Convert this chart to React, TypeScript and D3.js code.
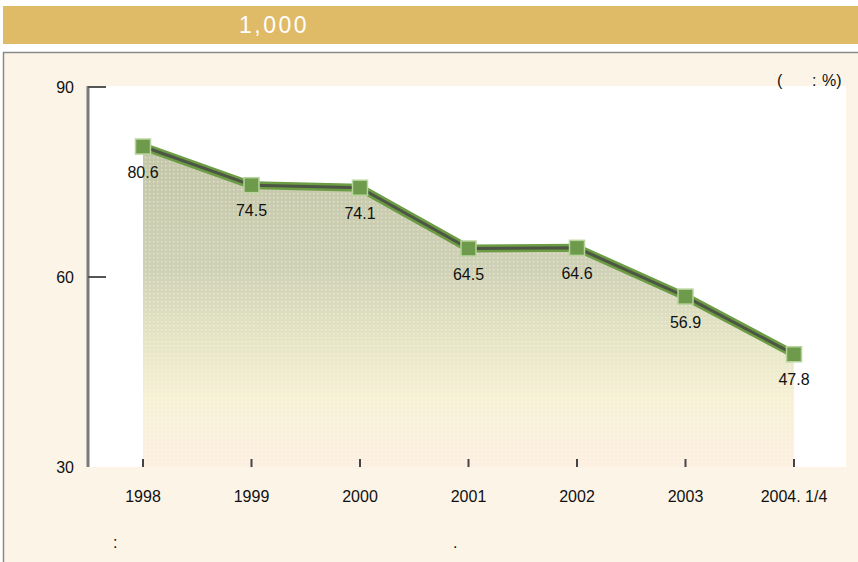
import React, { FC, useMemo } from 'react'
import * as d3 from 'd3'

const categories = ['1998', '1999', '2000', '2001', '2002', '2003', '2004. 1/4']
const values = [80.6, 74.5, 74.1, 64.5, 64.6, 56.9, 47.8]
const yTicks = [30, 60, 90]
const yTickMarks = [60, 90]
const headerTitle = '1,000'

const W = 858
const H = 562
const FONT = '"Liberation Sans", Arial, sans-serif'

const App: FC = () => {
	const x = useMemo(() => {
		return d3.scalePoint<string>().domain(categories).range([143, 794])
	}, [])

	const y = useMemo(() => {
		return d3.scaleLinear().domain([30, 90]).range([467, 87])
	}, [])

	const pts: [number, number][] = values.map((v, i) => [x(categories[i]) as number, y(v)])

	const line = d3.line<[number, number]>()(pts) || ''
	const area =
		d3
			.area<[number, number]>()
			.x(d => d[0])
			.y0(y(30))
			.y1(d => d[1])(pts) || ''

	return (
		<svg
			width={W}
			height={H}
			style={{ position: 'absolute', left: 0, top: 0, fontFamily: FONT }}
		>
			<defs>
				<linearGradient id="fillGrad" gradientUnits="userSpaceOnUse" x1={0} y1={y(82)} x2={0} y2={y(30)}>
					<stop offset="0" stopColor="#c2c5a6" />
					<stop offset="0.4" stopColor="#cfd1b6" />
					<stop offset="0.62" stopColor="#e6e5c6" />
					<stop offset="0.8" stopColor="#f7f1d6" />
					<stop offset="1" stopColor="#fcefe0" />
				</linearGradient>
				<pattern id="dots" width={4} height={4} patternUnits="userSpaceOnUse">
					<rect x={1} y={1} width={1.4} height={1.4} fill="#ffffff" opacity={0.45} />
				</pattern>
			</defs>

			{/* header */}
			<rect x={3} y={6} width={W - 3} height={38} fill="#dfba67" />
			<text
				x={274}
				y={33}
				textAnchor="middle"
				fill="#ffffff"
				fontSize={23}
				letterSpacing={2.5}
			>
				{headerTitle}
			</text>

			{/* panel */}
			<rect x={3} y={52} width={W} height={H} fill="#fdf4e8" />
			<line x1={3} y1={52.5} x2={W} y2={52.5} stroke="#8a8a8a" strokeWidth={1.5} />
			<line x1={3.5} y1={52} x2={3.5} y2={H} stroke="#8a8a8a" strokeWidth={1.5} />

			{/* plot area */}
			<rect x={88} y={86} width={758} height={381} fill="#ffffff" />

			<path d={area} fill="url(#fillGrad)" />
			<path d={area} fill="url(#dots)" />

			{/* y axis */}
			<line x1={88} y1={86} x2={88} y2={467} stroke="#7a7a7a" strokeWidth={3} />
			{yTickMarks.map(t => (
				<line key={t} x1={88} y1={y(t)} x2={106} y2={y(t)} stroke="#555" strokeWidth={2} />
			))}
			{yTicks.map(t => (
				<text key={t} x={74} y={y(t) + 6} textAnchor="end" fontSize={16} fill="#111">
					{t}
				</text>
			))}

			{/* x ticks & labels */}
			{categories.map(c => (
				<g key={c}>
					<line x1={x(c)} y1={459} x2={x(c)} y2={467} stroke="#444" strokeWidth={2} />
					<text x={x(c)} y={502} textAnchor="middle" fontSize={16} fill="#111">
						{c}
					</text>
				</g>
			))}

			{/* line */}
			<path d={line} fill="none" stroke="#6c9c44" strokeWidth={8} strokeLinejoin="round" />
			<path d={line} fill="none" stroke="#4d5544" strokeWidth={3} strokeLinejoin="round" />

			{/* markers and values */}
			{pts.map((p, i) => (
				<g key={i}>
					<rect
						x={p[0] - 7.5}
						y={p[1] - 7.5}
						width={15}
						height={15}
						fill="#6e9b4b"
						stroke="#b7d49c"
						strokeWidth={1.5}
					/>
					<text x={p[0]} y={p[1] + 31} textAnchor="middle" fontSize={16} fill="#111">
						{values[i]}
					</text>
				</g>
			))}

			{/* unit */}
			<text x={777} y={86} fontSize={16} fill="#111">(</text>
			<text x={812} y={86} fontSize={16} fill="#111">:</text>
			<text x={822} y={86} fontSize={16} fill="#111">%)</text>

			{/* source */}
			<text x={113} y={548} fontSize={16} fill="#111">:</text>
			<text x={453} y={548} fontSize={16} fill="#111">.</text>
		</svg>
	)
}

export default App
